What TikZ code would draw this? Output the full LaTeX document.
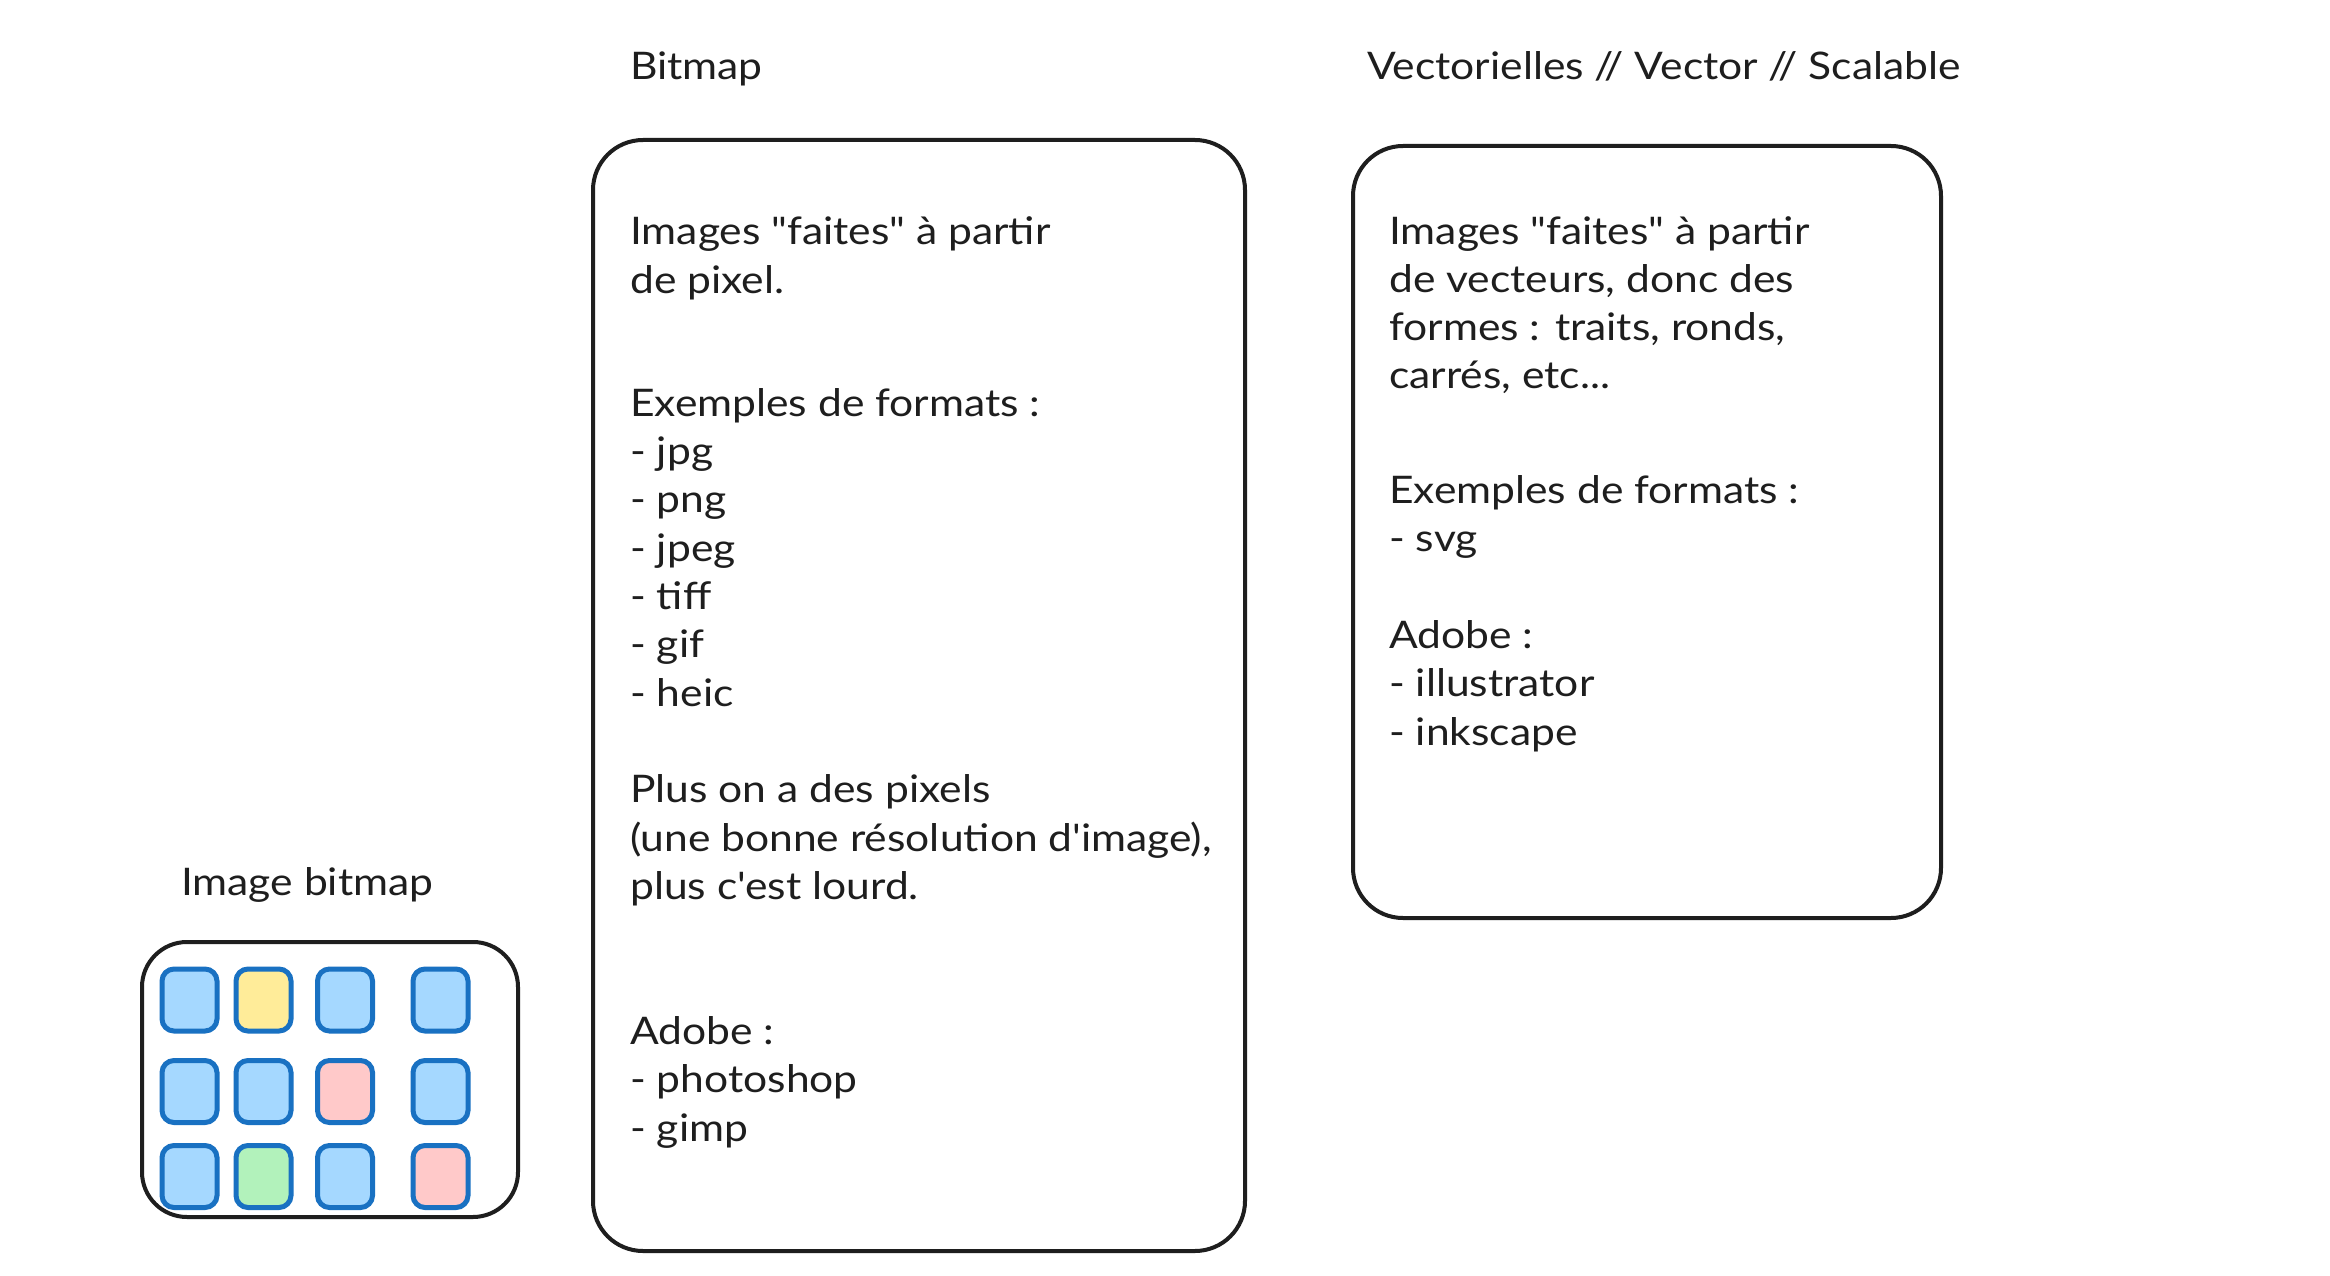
\documentclass[tikz,border=0pt]{standalone}
\usepackage{fontspec}
\setmainfont{Lato}[Ligatures=TeXOff, FakeStretch=1.12]
\definecolor{ink}{HTML}{1E1E1E}
\definecolor{pxstroke}{HTML}{1971C2}
\definecolor{pxblue}{HTML}{A5D8FF}
\definecolor{pxyellow}{HTML}{FFEC99}
\definecolor{pxred}{HTML}{FFC9C9}
\definecolor{pxgreen}{HTML}{B2F2BB}
\begin{document}
\begin{tikzpicture}[x=1pt,y=-1pt,
  txt/.style={anchor=base west, inner sep=0, text=ink, font=\fontsize{38}{47}\selectfont},
  bigbox/.style={draw=ink, line width=4pt, rounded corners=50pt, inner sep=0},
  px/.style={draw=pxstroke, line width=5pt, rounded corners=12pt, inner sep=0,
             minimum width=55pt, minimum height=62pt}]
\useasboundingbox[fill=white] (0,0) rectangle (2330,1276);

% titles
\node[txt] (tbitmap) at (630,80) {Bitmap};
\node[txt] (tvector) at (1367,80) {Vectorielles // Vector // Scalable};
\node[txt] (timage) at (181,895) {Image bitmap};

% boxes
\node[bigbox, minimum width=652pt, minimum height=1111pt] (bitmapbox) at (919,695.5) {};
\node[bigbox, minimum width=588pt, minimum height=772pt] (vectorbox) at (1647,532) {};
\node[bigbox, rounded corners=45pt, minimum width=376pt, minimum height=275pt] (smallbox) at (330,1079.5) {};

% pixel grid
\node[px, fill=pxblue]   (p11) at (189.5,1000) {};
\node[px, fill=pxyellow] (p12) at (263.5,1000) {};
\node[px, fill=pxblue]   (p13) at (345,1000) {};
\node[px, fill=pxblue]   (p14) at (440.5,1000) {};
\node[px, fill=pxblue]   (p21) at (189.5,1091.5) {};
\node[px, fill=pxblue]   (p22) at (263.5,1091.5) {};
\node[px, fill=pxred]    (p23) at (345,1091.5) {};
\node[px, fill=pxblue]   (p24) at (440.5,1091.5) {};
\node[px, fill=pxblue]   (p31) at (189.5,1176.5) {};
\node[px, fill=pxgreen]  (p32) at (263.5,1176.5) {};
\node[px, fill=pxblue]   (p33) at (345,1176.5) {};
\node[px, fill=pxred]    (p34) at (440.5,1176.5) {};

% bitmap text
\node[txt] (b1) at (630,245) {Images "faites" à partir};
\node[txt] (b2) at (630,293) {de pixel.};
\node[txt] (b3) at (630,416) {Exemples de formats :};
\node[txt] (b4) at (630,464) {- jpg};
\node[txt] (b5) at (630,512.5) {- png};
\node[txt] (b6) at (630,561) {- jpeg};
\node[txt] (b7) at (630,609) {- tiff};
\node[txt] (b8) at (630,657.5) {- gif};
\node[txt] (b9) at (630,706) {- heic};
\node[txt] (b10) at (630,802.5) {Plus on a des pixels};
\node[txt] (b11) at (630,851) {(une bonne résolution d'image),};
\node[txt] (b12) at (630,899) {plus c'est lourd.};
\node[txt] (b13) at (630,1044) {Adobe :};
\node[txt] (b14) at (630,1092) {- photoshop};
\node[txt] (b15) at (630,1141) {- gimp};

% vector text
\node[txt] (v1) at (1389,244) {Images "faites" à partir};
\node[txt] (v2) at (1389,292) {de vecteurs, donc des};
\node[txt] (v3) at (1389,340) {formes : traits, ronds,};
\node[txt] (v4) at (1389,388) {carrés, etc...};
\node[txt] (v5) at (1389,503) {Exemples de formats :};
\node[txt] (v6) at (1389,551) {- svg};
\node[txt] (v7) at (1389,648) {Adobe :};
\node[txt] (v8) at (1389,696) {- illustrator};
\node[txt] (v9) at (1389,745) {- inkscape};
\end{tikzpicture}
\end{document}
